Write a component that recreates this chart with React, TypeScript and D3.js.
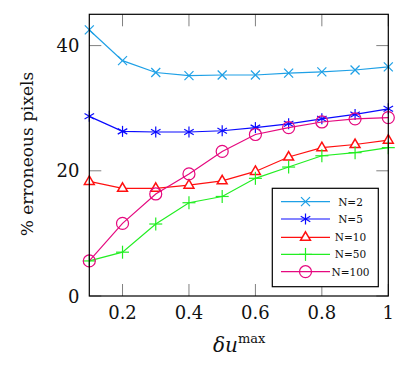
import React from "react";
import * as d3 from "d3";

const xs = [0.1, 0.2, 0.3, 0.4, 0.5, 0.6, 0.7, 0.8, 0.9, 1.0];
const n2 = [42.5, 37.6, 35.7, 35.2, 35.3, 35.3, 35.6, 35.8, 36.1, 36.6];
const n5 = [28.7, 26.3, 26.2, 26.2, 26.4, 26.9, 27.5, 28.3, 29.0, 29.9];
const n10 = [18.3, 17.2, 17.2, 17.7, 18.4, 19.9, 22.2, 23.7, 24.2, 24.9];
const n50 = [5.6, 7.0, 11.5, 14.9, 15.9, 18.8, 20.6, 22.4, 22.9, 23.7];
const n100 = [5.6, 11.6, 16.3, 19.5, 23.1, 25.8, 26.9, 27.8, 28.3, 28.5];
const xTicks = [0.2, 0.4, 0.6, 0.8, 1];
const yTicks = [0, 20, 40];
const seriesNames = ["N=2", "N=5", "N=10", "N=50", "N=100"];

const series = [
  { name: seriesNames[0], values: n2, color: "#1ea0e6", mark: "x" },
  { name: seriesNames[1], values: n5, color: "#0a0aff", mark: "star" },
  { name: seriesNames[2], values: n10, color: "#ff1010", mark: "tri" },
  { name: seriesNames[3], values: n50, color: "#22ee22", mark: "plus" },
  { name: seriesNames[4], values: n100, color: "#e5097f", mark: "circle" },
];

const L = 89.3, R = 388.3, T = 14.3, B = 296;
const fmt = (v: number) => (v === 1 ? "1" : d3.format(".1f")(v));

function Marker({ type, x, y, color }: { type: string; x: number; y: number; color: string }) {
  const sw = 1.2;
  if (type === "x") {
    const s = 4.5;
    return (
      <g stroke={color} strokeWidth={sw}>
        <line x1={x - s} y1={y - s} x2={x + s} y2={y + s} />
        <line x1={x - s} y1={y + s} x2={x + s} y2={y - s} />
      </g>
    );
  }
  if (type === "star") {
    const s = 5.5;
    const angs = [90, 30, -30];
    return (
      <g stroke={color} strokeWidth={sw}>
        {angs.map((a) => {
          const r = (a * Math.PI) / 180;
          return (
            <line key={a} x1={x - s * Math.cos(r)} y1={y - s * Math.sin(r)} x2={x + s * Math.cos(r)} y2={y + s * Math.sin(r)} />
          );
        })}
      </g>
    );
  }
  if (type === "tri") {
    const s = 5.5;
    const pts = [
      [x, y - s],
      [x + s * 0.9, y + s * 0.55],
      [x - s * 0.9, y + s * 0.55],
    ];
    return <polygon points={pts.map((p) => p.join(",")).join(" ")} fill="white" stroke={color} strokeWidth={sw + 0.3} />;
  }
  if (type === "plus") {
    const s = 6.5;
    return (
      <g stroke={color} strokeWidth={sw}>
        <line x1={x - s} y1={y} x2={x + s} y2={y} />
        <line x1={x} y1={y - s} x2={x} y2={y + s} />
      </g>
    );
  }
  return <circle cx={x} cy={y} r={6} fill="none" stroke={color} strokeWidth={sw} />;
}

export default function App() {
  const x = d3.scaleLinear().domain([0.1, 1]).range([L, R]);
  const y = d3.scaleLinear().domain([0, 45]).range([B, T]);
  const line = d3
    .line<number>()
    .x((_, i) => x(xs[i]))
    .y((d) => y(d));
  const font = "DejaVu Serif";
  const tickLen = 12;
  const legX = 272.3, legY = 188.3, legW = 106, legH = 98.4;
  const legRows = [201.7, 219, 237.3, 254.4, 271.7];
  return (
    <svg width={414} height={379} style={{ position: "absolute", left: 0, top: 0, fontFamily: font }}>
      <rect width={414} height={379} fill="white" />
      {xTicks.map((t) => (
        <g key={"xt" + t} stroke="#808080" strokeWidth={1}>
          <line x1={x(t)} x2={x(t)} y1={B} y2={B - tickLen} />
          <line x1={x(t)} x2={x(t)} y1={T} y2={T + tickLen} />
        </g>
      ))}
      {yTicks.map((t) => (
        <g key={"yt" + t} stroke="#808080" strokeWidth={1}>
          <line x1={L} x2={L + tickLen} y1={y(t)} y2={y(t)} />
          <line x1={R} x2={R - tickLen} y1={y(t)} y2={y(t)} />
        </g>
      ))}
      {series.map((s) => (
        <g key={s.name}>
          <path d={line(s.values) || ""} fill="none" stroke={s.color} strokeWidth={1.2} />
          {s.values.map((v, i) => (
            <Marker key={i} type={s.mark} x={x(xs[i])} y={y(v)} color={s.color} />
          ))}
        </g>
      ))}
      <rect x={L} y={T} width={R - L} height={B - T} fill="none" stroke="black" strokeWidth={1.2} />
      {xTicks.map((t) => (
        <text key={"xl" + t} x={x(t)} y={318.5} textAnchor="middle" fontSize={18} fill="#111">
          {fmt(t)}
        </text>
      ))}
      {yTicks.map((t) => (
        <text key={"yl" + t} x={79.5} y={y(t) + 6.5} textAnchor="end" fontSize={18} fill="#111">
          {t}
        </text>
      ))}
      <text transform="translate(33,154) rotate(-90)" textAnchor="middle" fontSize={17} fill="#111">
        % erroneous pixels
      </text>
      <text x={213} y={352} fontSize={20} fill="#111">
        <tspan fontStyle="italic">δu</tspan>
        <tspan fontSize={13} dy={-9}>max</tspan>
      </text>
      <rect x={legX} y={legY} width={legW} height={legH} fill="white" stroke="black" strokeWidth={1.2} />
      {series.map((s, i) => (
        <g key={"leg" + s.name}>
          <line x1={281} x2={330} y1={legRows[i]} y2={legRows[i]} stroke={s.color} strokeWidth={1.2} />
          <Marker type={s.mark} x={305.5} y={legRows[i]} color={s.color} />
          <text x={350.5} y={legRows[i] + 4} textAnchor="middle" fontSize={10.5} fill="#111">
            {s.name}
          </text>
        </g>
      ))}
    </svg>
  );
}
